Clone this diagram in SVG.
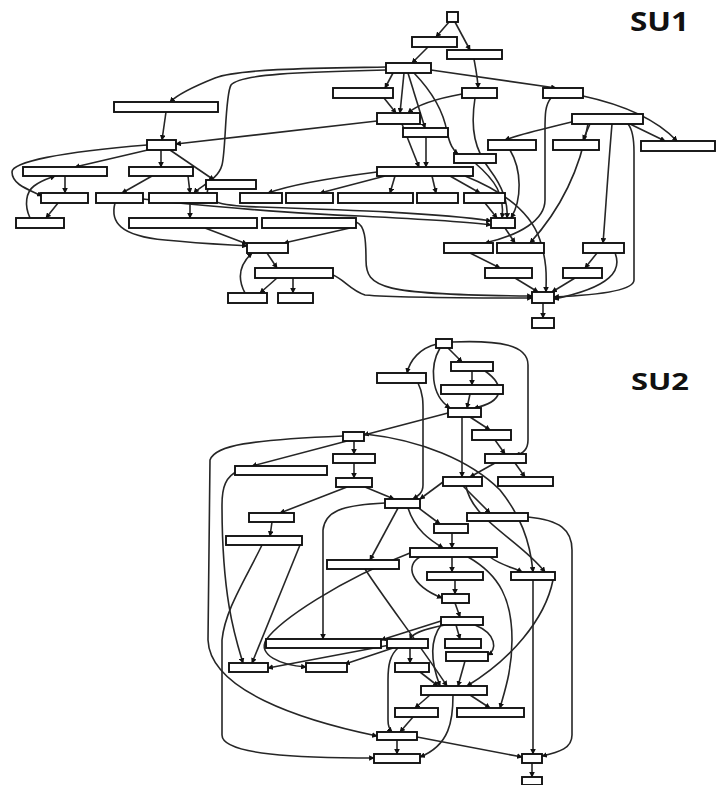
<svg xmlns="http://www.w3.org/2000/svg" width="716" height="785" viewBox="0 0 716 785">
<defs>
<marker id="a" viewBox="0 0 8 8" refX="7" refY="4" markerWidth="3.5" markerHeight="3.5" orient="auto"><path d="M0,0 L8,4 L0,8 z" fill="#111"/></marker>
<style>
.n rect{fill:#fff;stroke:#111;stroke-width:1.9}
#edges path{fill:none;stroke:#262626;stroke-width:1.6;marker-end:url(#a)}
.t{font-family:"Open Sans","Liberation Sans",sans-serif;font-weight:bold;fill:#111}
</style>
</defs>
<rect width="716" height="785" fill="#fff"/>
<text class="t" x="630" y="31" font-size="26" textLength="59" lengthAdjust="spacingAndGlyphs">SU1</text>
<text class="t" x="631" y="390" font-size="24" textLength="58" lengthAdjust="spacingAndGlyphs">SU2</text>
<g id="edges">
<!-- SU1 -->
<path d="M449,22 L436,37"/>
<path d="M455,22 L470,50"/>
<path d="M428,47 L412,63"/>
<path d="M474,59 C476,70 478,80 478,88"/>
<path d="M386,67 C330,68 240,68 215,78 C195,86 178,94 170,102"/>
<path d="M386,70 C300,72 240,74 231,85 C225,95 226,150 222,165 C218,180 200,186 194,193"/>
<path d="M393,73 L385,88"/>
<path d="M404,73 L400,113"/>
<path d="M408,73 L425,128"/>
<path d="M414,73 C440,100 445,120 447,132 C450,145 453,150 458,154"/>
<path d="M431,70 L556,88"/>
<path d="M384,98 L396,113"/>
<path d="M462,94 C440,98 418,104 408,113"/>
<path d="M475,98 C470,130 475,150 490,170 C505,190 508,205 507,218"/>
<path d="M402,124 L419,167"/>
<path d="M426,137 L426,167"/>
<path d="M475,163 C495,180 505,195 502,218"/>
<path d="M377,121 L176,144"/>
<path d="M166,112 L162,140"/>
<path d="M152,149 L75,167"/>
<path d="M161,150 L161,167"/>
<path d="M170,150 L214,180"/>
<path d="M147,145 C60,152 12,162 12,172 C12,185 30,190 42,196"/>
<path d="M65,176 L65,193"/>
<path d="M58,203 L46,218"/>
<path d="M30,218 C24,205 26,192 34,186 C42,180 50,178 55,176"/>
<path d="M152,176 L122,193"/>
<path d="M188,176 L190,193"/>
<path d="M190,203 L190,218"/>
<path d="M115,203 C110,222 120,236 165,240 C205,244 235,245 247,246"/>
<path d="M205,228 L247,244"/>
<path d="M350,228 L284,243"/>
<path d="M377,172 C330,178 290,185 268,193"/>
<path d="M385,176 L320,193"/>
<path d="M395,176 L390,193"/>
<path d="M432,176 L436,193"/>
<path d="M450,176 L480,193"/>
<path d="M208,189 C204,200 215,206 260,207 C350,210 440,213 491,221"/>
<path d="M143,199 C200,206 300,214 360,216 C420,219 470,222 491,225"/>
<path d="M267,253 L277,268"/>
<path d="M277,278 L260,293"/>
<path d="M293,278 L293,293"/>
<path d="M245,293 C238,280 238,266 252,253"/>
<path d="M333,275 C345,280 350,290 365,295 C400,298 480,298 532,298"/>
<path d="M356,222 C365,225 366,240 366,260 C366,288 380,295 532,296"/>
<path d="M485,203 L497,218"/>
<path d="M505,228 L515,243"/>
<path d="M465,176 C500,190 530,210 540,240 C548,265 546,280 546,292"/>
<path d="M588,124 C580,170 560,210 530,243"/>
<path d="M551,98 C545,105 545,115 545,130 L545,200 C545,220 520,235 485,243"/>
<path d="M590,124 L583,140"/>
<path d="M575,121 C540,130 520,134 505,140"/>
<path d="M630,124 L665,141"/>
<path d="M583,96 C620,104 655,118 677,141"/>
<path d="M612,124 C608,170 605,220 603,243"/>
<path d="M628,124 C633,130 634,140 634,152 L634,280 C634,290 600,295 554,297"/>
<path d="M597,253 L585,268"/>
<path d="M615,253 C622,270 612,287 554,299"/>
<path d="M575,278 L552,292"/>
<path d="M515,278 L538,292"/>
<path d="M470,253 L500,268"/>
<path d="M543,303 L543,318"/>
<path d="M510,150 C522,170 522,200 511,218"/>
<!-- SU2 -->
<path d="M437,344 C420,348 410,360 407,373"/>
<path d="M448,348 L462,362"/>
<path d="M440,348 C430,365 430,395 450,408"/>
<path d="M452,342 C500,340 528,345 528,365 L528,440 C528,450 522,454 515,455"/>
<path d="M472,371 L472,385"/>
<path d="M485,371 C505,385 505,402 474,408"/>
<path d="M470,394 L467,408"/>
<path d="M448,413 L364,435"/>
<path d="M470,417 L490,430"/>
<path d="M462,417 L462,477"/>
<path d="M495,440 L505,454"/>
<path d="M495,463 L470,477"/>
<path d="M515,463 L525,477"/>
<path d="M418,383 C424,395 423,405 423,420 L423,485 C423,493 418,496 413,499"/>
<path d="M354,441 L354,454"/>
<path d="M347,441 L252,466"/>
<path d="M354,463 L354,478"/>
<path d="M347,487 L280,513"/>
<path d="M365,487 L394,499"/>
<path d="M343,436 C250,440 215,445 210,460 L208,640 C210,690 300,720 377,736"/>
<path d="M443,482 L420,499"/>
<path d="M463,486 L490,513"/>
<path d="M385,503 C340,505 325,512 323,530 L323,639"/>
<path d="M398,508 L370,560"/>
<path d="M408,508 C415,530 430,540 443,548"/>
<path d="M416,506 L440,524"/>
<path d="M452,533 L452,548"/>
<path d="M365,434 C420,440 470,460 500,490 C520,515 530,540 533,572"/>
<path d="M466,486 C472,520 520,540 545,572"/>
<path d="M528,517 C560,520 572,530 572,550 L572,735 C572,748 560,752 542,756"/>
<path d="M533,580 L533,754"/>
<path d="M452,557 L452,572"/>
<path d="M490,557 C500,565 515,568 522,572"/>
<path d="M420,557 C405,565 410,585 442,598"/>
<path d="M455,580 L455,594"/>
<path d="M455,603 L460,617"/>
<path d="M445,625 C420,630 412,634 410,639"/>
<path d="M456,625 L460,639"/>
<path d="M475,625 C497,634 497,650 488,655"/>
<path d="M441,621 L381,640"/>
<path d="M465,661 L458,686"/>
<path d="M420,672 L438,686"/>
<path d="M365,569 C385,600 420,645 447,686"/>
<path d="M553,580 C545,620 510,660 467,686"/>
<path d="M468,557 C500,575 512,600 512,640 C512,670 505,690 500,708"/>
<path d="M441,625 C430,640 430,660 440,686"/>
<path d="M430,695 L415,708"/>
<path d="M470,695 L490,708"/>
<path d="M453,695 C453,720 450,745 420,757"/>
<path d="M413,717 L400,732"/>
<path d="M397,740 L397,754"/>
<path d="M417,737 L522,757"/>
<path d="M532,763 L532,777"/>
<path d="M240,470 C225,476 222,488 222,505 C222,600 236,640 243,663"/>
<path d="M272,522 L270,536"/>
<path d="M262,545 C245,580 225,610 222,640 L222,735 C222,755 300,758 374,758"/>
<path d="M300,545 L252,663"/>
<path d="M390,645 L268,668"/>
<path d="M393,648 L345,664"/>
<path d="M398,648 C390,655 388,665 388,680 L388,720 C388,727 390,730 392,732"/>
<path d="M410,648 L410,663"/>
<path d="M410,553 C340,580 280,620 266,640 C258,655 280,665 306,667"/>
</g>
<g class="n">
<g id="su1_n01"><rect x="447" y="12" width="11" height="10"/></g>
<g id="su1_n02"><rect x="412" y="37" width="45" height="10"/></g>
<g id="su1_n03"><rect x="447" y="50" width="55" height="9"/></g>
<g id="su1_n04"><rect x="386" y="63" width="45" height="10"/></g>
<g id="su1_n05"><rect x="333" y="88" width="60" height="10"/></g>
<g id="su1_n06"><rect x="462" y="88" width="35" height="10"/></g>
<g id="su1_n07"><rect x="543" y="88" width="40" height="10"/></g>
<g id="su1_n08"><rect x="114" y="102" width="104" height="10"/></g>
<g id="su1_n09"><rect x="377" y="113" width="43" height="11"/></g>
<g id="su1_n10"><rect x="403" y="128" width="45" height="9"/></g>
<g id="su1_n11"><rect x="572" y="114" width="71" height="10"/></g>
<g id="su1_n12"><rect x="147" y="140" width="29" height="10"/></g>
<g id="su1_n13"><rect x="488" y="140" width="48" height="10"/></g>
<g id="su1_n14"><rect x="553" y="140" width="46" height="10"/></g>
<g id="su1_n15"><rect x="641" y="141" width="74" height="10"/></g>
<g id="su1_n16"><rect x="454" y="154" width="42" height="9"/></g>
<g id="su1_n17"><rect x="23" y="167" width="84" height="9"/></g>
<g id="su1_n18"><rect x="129" y="167" width="64" height="9"/></g>
<g id="su1_n19"><rect x="377" y="167" width="96" height="9"/></g>
<g id="su1_n20"><rect x="206" y="180" width="50" height="9"/></g>
<g id="su1_n21"><rect x="41" y="193" width="47" height="10"/></g>
<g id="su1_n22"><rect x="96" y="193" width="47" height="10"/></g>
<g id="su1_n23"><rect x="149" y="193" width="68" height="10"/></g>
<g id="su1_n24"><rect x="240" y="193" width="42" height="10"/></g>
<g id="su1_n25"><rect x="286" y="193" width="47" height="10"/></g>
<g id="su1_n26"><rect x="338" y="193" width="75" height="10"/></g>
<g id="su1_n27"><rect x="417" y="193" width="41" height="10"/></g>
<g id="su1_n28"><rect x="464" y="193" width="41" height="10"/></g>
<g id="su1_n29"><rect x="16" y="218" width="48" height="10"/></g>
<g id="su1_n30"><rect x="129" y="218" width="128" height="10"/></g>
<g id="su1_n31"><rect x="262" y="218" width="94" height="10"/></g>
<g id="su1_n32"><rect x="491" y="218" width="24" height="10"/></g>
<g id="su1_n33"><rect x="247" y="243" width="41" height="10"/></g>
<g id="su1_n34"><rect x="444" y="243" width="49" height="10"/></g>
<g id="su1_n35"><rect x="497" y="243" width="47" height="10"/></g>
<g id="su1_n36"><rect x="583" y="243" width="41" height="10"/></g>
<g id="su1_n37"><rect x="255" y="268" width="78" height="10"/></g>
<g id="su1_n38"><rect x="485" y="268" width="47" height="10"/></g>
<g id="su1_n39"><rect x="563" y="268" width="39" height="10"/></g>
<g id="su1_n40"><rect x="228" y="293" width="39" height="10"/></g>
<g id="su1_n41"><rect x="278" y="293" width="35" height="10"/></g>
<g id="su1_n42"><rect x="532" y="292" width="22" height="11"/></g>
<g id="su1_n43"><rect x="532" y="318" width="22" height="10"/></g>
<g id="su2_n01"><rect x="436" y="339" width="16" height="9"/></g>
<g id="su2_n02"><rect x="377" y="373" width="49" height="10"/></g>
<g id="su2_n03"><rect x="451" y="362" width="42" height="9"/></g>
<g id="su2_n04"><rect x="441" y="385" width="62" height="9"/></g>
<g id="su2_n05"><rect x="448" y="408" width="33" height="9"/></g>
<g id="su2_n06"><rect x="472" y="430" width="39" height="10"/></g>
<g id="su2_n07"><rect x="485" y="454" width="41" height="9"/></g>
<g id="su2_n08"><rect x="443" y="477" width="39" height="9"/></g>
<g id="su2_n09"><rect x="498" y="477" width="55" height="9"/></g>
<g id="su2_n10"><rect x="343" y="432" width="21" height="9"/></g>
<g id="su2_n11"><rect x="333" y="454" width="42" height="9"/></g>
<g id="su2_n12"><rect x="235" y="466" width="92" height="9"/></g>
<g id="su2_n13"><rect x="336" y="478" width="36" height="9"/></g>
<g id="su2_n14"><rect x="385" y="499" width="35" height="9"/></g>
<g id="su2_n15"><rect x="249" y="513" width="45" height="9"/></g>
<g id="su2_n16"><rect x="226" y="536" width="76" height="9"/></g>
<g id="su2_n17"><rect x="467" y="513" width="61" height="8"/></g>
<g id="su2_n18"><rect x="434" y="524" width="34" height="9"/></g>
<g id="su2_n19"><rect x="410" y="548" width="87" height="9"/></g>
<g id="su2_n20"><rect x="327" y="560" width="72" height="9"/></g>
<g id="su2_n21"><rect x="427" y="572" width="56" height="8"/></g>
<g id="su2_n22"><rect x="511" y="572" width="44" height="8"/></g>
<g id="su2_n23"><rect x="442" y="594" width="27" height="9"/></g>
<g id="su2_n24"><rect x="441" y="617" width="42" height="8"/></g>
<g id="su2_n25"><rect x="266" y="639" width="115" height="9"/></g>
<g id="su2_n26"><rect x="387" y="639" width="41" height="9"/></g>
<g id="su2_n27"><rect x="445" y="639" width="36" height="9"/></g>
<g id="su2_n28"><rect x="446" y="652" width="42" height="9"/></g>
<g id="su2_n29"><rect x="395" y="663" width="34" height="9"/></g>
<g id="su2_n30"><rect x="229" y="663" width="39" height="9"/></g>
<g id="su2_n31"><rect x="306" y="663" width="41" height="9"/></g>
<g id="su2_n32"><rect x="421" y="686" width="66" height="9"/></g>
<g id="su2_n33"><rect x="395" y="708" width="43" height="9"/></g>
<g id="su2_n34"><rect x="457" y="708" width="67" height="9"/></g>
<g id="su2_n35"><rect x="377" y="732" width="40" height="8"/></g>
<g id="su2_n36"><rect x="374" y="754" width="46" height="9"/></g>
<g id="su2_n37"><rect x="522" y="754" width="20" height="9"/></g>
<g id="su2_n38"><rect x="522" y="777" width="20" height="8"/></g>
</g>
</svg>
